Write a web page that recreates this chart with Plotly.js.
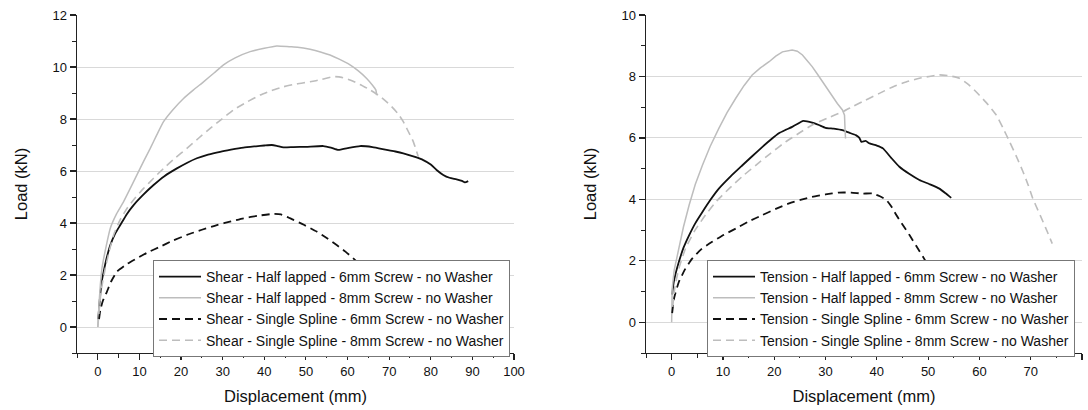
<!DOCTYPE html>
<html>
<head>
<meta charset="utf-8">
<script src="https://cdn.plot.ly/plotly-3.0.1.min.js"></script>
<style>html,body{margin:0;padding:0;background:#fff}#chart{width:1088px;height:410px}</style>
</head>
<body>
<div id="chart"></div>
<script>
// ---- Shear (left panel) ----
const shearHL6_x = [0.1, 0.5, 1.0, 1.4, 2.2, 3.0, 4.2, 5.4, 7, 8.6, 11, 13.4, 16, 19, 21.5, 23.8, 26.5, 29.4, 32, 35, 38, 40, 41.8, 43, 44.6, 47, 50, 54.2, 56, 57.8, 60, 63, 66, 69.4, 71.5, 73.4, 76, 78.2, 80, 81.4, 83, 84.5, 86.2, 87.5, 88.2, 89];
const shearHL6_y = [0.3, 1.1, 1.8, 2.13, 2.7, 3.15, 3.6, 3.92, 4.35, 4.69, 5.1, 5.46, 5.8, 6.1, 6.32, 6.49, 6.63, 6.74, 6.82, 6.9, 6.95, 6.98, 7.0, 6.97, 6.91, 6.92, 6.93, 6.96, 6.9, 6.81, 6.88, 6.96, 6.92, 6.81, 6.75, 6.68, 6.55, 6.42, 6.25, 6.04, 5.85, 5.74, 5.68, 5.62, 5.56, 5.61];

const shearHL8_x = [0, 0.3, 0.6, 1.0, 2.0, 3.0, 4.5, 6.2, 7.8, 9.4, 11, 12.6, 14.2, 15.8, 18, 20.6, 23, 25.4, 28, 30.2, 33, 36.6, 40, 43, 46, 48, 51, 53.5, 55.8, 58, 60.6, 62.6, 64.6, 66, 66.8, 67];
const shearHL8_y = [0, 0.9, 1.6, 2.26, 3.1, 3.8, 4.35, 4.82, 5.33, 5.85, 6.37, 6.87, 7.4, 7.9, 8.35, 8.79, 9.12, 9.43, 9.78, 10.08, 10.35, 10.59, 10.72, 10.81, 10.78, 10.76, 10.68, 10.58, 10.46, 10.3, 10.08, 9.85, 9.56, 9.3, 9.12, 8.92];

const shearSS6_x = [0.3, 0.6, 1.2, 2.2, 3.2, 4.6, 7, 9.4, 12, 15, 18, 21.4, 25, 28.6, 32, 35, 38.5, 42.2, 44, 45.4, 47, 49.5, 52.6, 55, 57.4, 59.5, 61.4, 63.5, 66];
const shearSS6_y = [0.3, 0.65, 1.0, 1.36, 1.75, 2.13, 2.42, 2.64, 2.87, 3.09, 3.32, 3.54, 3.74, 3.92, 4.06, 4.18, 4.28, 4.35, 4.33, 4.24, 4.12, 3.93, 3.67, 3.42, 3.15, 2.9, 2.64, 2.3, 1.8];

const shearSS8_x = [0, 0.3, 0.8, 1.8, 2.8, 3.8, 5.3, 7, 9, 11, 13.4, 15.8, 18.6, 21.4, 24.2, 27, 29.8, 32.6, 35.8, 39, 41.8, 44.6, 47.8, 51, 53.8, 56.6, 58.6, 60.6, 63, 65.4, 67.8, 70.2, 72, 73.4, 74.6, 75.8, 77];
const shearSS8_y = [0, 0.6, 1.4, 2.26, 2.95, 3.54, 4.1, 4.56, 4.97, 5.33, 5.72, 6.1, 6.5, 6.87, 7.26, 7.64, 8.0, 8.35, 8.65, 8.92, 9.1, 9.24, 9.35, 9.43, 9.52, 9.63, 9.6, 9.5, 9.33, 9.12, 8.87, 8.54, 8.23, 7.9, 7.52, 7.13, 6.55];

// ---- Tension (right panel) ----
const tensHL6_x = [0.1, 0.4, 0.8, 1.4, 2.3, 3.4, 4.6, 6, 7.5, 9.2, 11.5, 13.8, 15.8, 17.7, 19.3, 20.9, 22.2, 23.5, 24.5, 25.5, 26.4, 27.4, 28.7, 30, 31.6, 33.3, 34.6, 35.9, 36.6, 37, 37.8, 38.6, 40, 41.2, 42.8, 44.4, 46.3, 48.3, 50.2, 52.2, 53.4, 54.5];
const tensHL6_y = [0.9, 1.3, 1.6, 1.96, 2.42, 2.83, 3.22, 3.59, 3.97, 4.35, 4.75, 5.11, 5.42, 5.71, 5.94, 6.15, 6.26, 6.36, 6.45, 6.55, 6.54, 6.5, 6.42, 6.33, 6.3, 6.25, 6.17, 6.09, 6.0, 5.87, 5.9, 5.82, 5.75, 5.66, 5.35, 5.06, 4.83, 4.63, 4.5, 4.35, 4.2, 4.05];

const tensHL8_x = [0, 0.05, 0.1, 0.5, 1.4, 2.3, 3.4, 4.6, 6, 7.5, 9.2, 10.8, 12.5, 14.1, 15.7, 17.3, 19, 20.3, 21.6, 22.5, 23.5, 24.5, 25.5, 26.4, 27.4, 28.4, 29.4, 30.4, 31.3, 32.3, 33.3, 33.7, 33.8, 33.9];
const tensHL8_y = [0, 0.5, 1.1, 1.7, 2.4, 3.1, 3.81, 4.48, 5.11, 5.72, 6.31, 6.82, 7.29, 7.7, 8.05, 8.28, 8.48, 8.66, 8.8, 8.84, 8.86, 8.82, 8.7, 8.52, 8.32, 8.08, 7.83, 7.58, 7.34, 7.12, 6.91, 6.74, 6.3, 5.98];

const tensSS6_x = [0.1, 0.5, 1.4, 2.6, 4, 5.8, 7.9, 10.2, 12.5, 15, 17.7, 20.3, 22.9, 25.1, 27.4, 30, 32.6, 35, 37.2, 39.2, 40.6, 41.9, 42.9, 43.8, 45.1, 46.4, 47.7, 49, 50.5, 52];
const tensSS6_y = [0.3, 0.8, 1.31, 1.72, 2.07, 2.38, 2.62, 2.85, 3.05, 3.28, 3.49, 3.69, 3.87, 3.98, 4.08, 4.16, 4.22, 4.22, 4.19, 4.19, 4.1, 3.97, 3.75, 3.49, 3.16, 2.83, 2.48, 2.13, 1.7, 1.2];

const tensSS8_x = [0.2, 0.6, 1.4, 2.7, 4.5, 6.6, 8.8, 11.2, 13.8, 16.4, 19.3, 22.2, 24.8, 27.4, 30.3, 33.3, 35.5, 37.8, 40.5, 43.1, 45.7, 48.3, 50.2, 52.2, 54.2, 56.1, 58, 60, 61.7, 63.3, 64.6, 65.9, 67.2, 68.5, 69.5, 70.4, 71.4, 72.4, 73.3, 74.2];
const tensSS8_y = [0.5, 1.1, 1.75, 2.4, 2.98, 3.49, 3.95, 4.35, 4.75, 5.11, 5.5, 5.87, 6.15, 6.42, 6.64, 6.85, 7.04, 7.23, 7.45, 7.66, 7.82, 7.94, 8.0, 8.05, 8.02, 7.94, 7.72, 7.39, 7.08, 6.74, 6.32, 5.87, 5.4, 4.9, 4.47, 4.03, 3.65, 3.27, 2.92, 2.56];

const shearNames = [
  "Shear - Half lapped - 6mm Screw - no Washer",
  "Shear - Half lapped - 8mm Screw - no Washer",
  "Shear - Single Spline - 6mm Screw - no Washer",
  "Shear - Single Spline - 8mm Screw - no Washer"
];
const tensionNames = [
  "Tension - Half lapped - 6mm Screw - no Washer",
  "Tension - Half lapped - 8mm Screw - no Washer",
  "Tension - Single Spline - 6mm Screw - no Washer",
  "Tension - Single Spline - 8mm Screw - no Washer"
];
const xTitle = "Displacement (mm)";
const yTitle = "Load (kN)";

const BLACK = "#111111", GRAY = "#bdbdbd";
const styles = [
  {color: BLACK, width: 1.8, dash: "solid"},
  {color: GRAY, width: 1.5, dash: "solid"},
  {color: BLACK, width: 1.8, dash: "8px,5px"},
  {color: GRAY, width: 1.6, dash: "8px,5px"}
];

const shearData = [[shearHL6_x, shearHL6_y], [shearHL8_x, shearHL8_y], [shearSS6_x, shearSS6_y], [shearSS8_x, shearSS8_y]];
const tensData = [[tensHL6_x, tensHL6_y], [tensHL8_x, tensHL8_y], [tensSS6_x, tensSS6_y], [tensSS8_x, tensSS8_y]];

function lineStyle(s, smooth) {
  return Object.assign({}, s, smooth ? {shape: "spline", smoothing: 0.5} : {shape: "linear"});
}

const traces = [];
shearData.forEach((d, i) => traces.push({
  x: d[0], y: d[1], type: "scatter", mode: "lines", name: shearNames[i],
  line: lineStyle(styles[i], true), xaxis: "x", yaxis: "y", legend: "legend"
}));
tensData.forEach((d, i) => traces.push({
  x: d[0], y: d[1], type: "scatter", mode: "lines", name: tensionNames[i],
  line: lineStyle(styles[i], i !== 1), xaxis: "x2", yaxis: "y2", legend: "legend2"
}));

const FONT = "Liberation Sans, Arial, sans-serif";
const W = 1082;
function xax(domain, range, anchor) {
  return {
    domain: domain, range: range, anchor: anchor, tick0: 0, dtick: 10,
    showgrid: false, zeroline: false, showline: true, linecolor: "#222", linewidth: 1.4,
    ticks: "outside", ticklen: 6, tickwidth: 1.2, tickcolor: "#222",
    minor: {ticks: "outside", ticklen: 4, tickwidth: 1, tickcolor: "#222", dtick: 5, tick0: 0, showgrid: false},
    tickfont: {family: FONT, size: 13, color: "#111"},
    title: {text: xTitle, font: {family: FONT, size: 16.5, color: "#111"}, standoff: 12},
    automargin: false, fixedrange: true
  };
}
function yax(domain, range, dtick, anchor) {
  return {
    domain: domain, range: range, anchor: anchor, tick0: 0, dtick: dtick,
    showgrid: true, gridcolor: "#d9d9d9", gridwidth: 1, zeroline: false,
    showline: true, linecolor: "#222", linewidth: 1.4,
    ticks: "outside", ticklen: 6, tickwidth: 1.2, tickcolor: "#222",
    minor: {ticks: "outside", ticklen: 4, tickwidth: 1, tickcolor: "#222", dtick: dtick / 2, tick0: 0, showgrid: false},
    tickfont: {family: FONT, size: 13, color: "#111"},
    title: {text: yTitle, font: {family: FONT, size: 16.5, color: "#111"}, standoff: 20},
    automargin: false, fixedrange: true
  };
}

const legendCommon = {
  xanchor: "left", yanchor: "top", bgcolor: "#ffffff",
  bordercolor: "#777", borderwidth: 1,
  font: {family: FONT, size: 14, color: "#111"},
  tracegroupgap: 0, itemclick: false, itemwidth: 42
};

const LEG_Y = 1 - (260 - 15) / 338;
const layout = {
  width: 1088, height: 410,
  margin: {l: 0, r: 6, t: 15, b: 57},
  paper_bgcolor: "#fff", plot_bgcolor: "#fff",
  showlegend: true,
  xaxis: xax([77 / W, 514 / W], [-5, 100], "y"),
  yaxis: yax([0, 1], [-1, 12], 2, "x"),
  xaxis2: xax([646 / W, 1], [-5, 80], "y2"),
  yaxis2: yax([0, 1], [-1, 10], 2, "x2"),
  legend: Object.assign({x: 153 / W, y: LEG_Y}, legendCommon),
  legend2: Object.assign({x: 707 / W, y: LEG_Y}, legendCommon)
};

Plotly.newPlot("chart", traces, layout, {displayModeBar: false, staticPlot: true});
</script>
</body>
</html>
